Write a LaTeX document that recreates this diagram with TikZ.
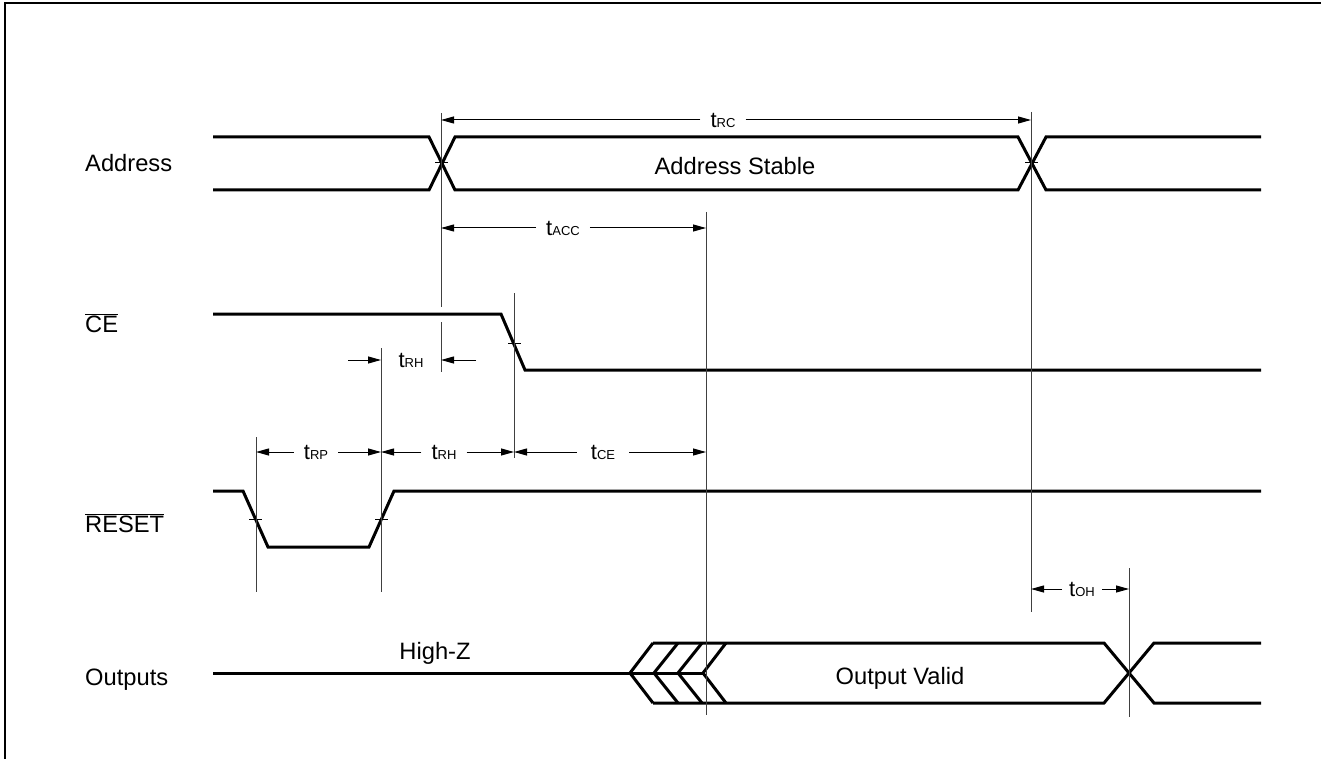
\documentclass[tikz,border=0pt]{standalone}
\usepackage{fontspec}
\setmainfont{Liberation Sans}
\usetikzlibrary{arrows.meta}
\newcommand{\tlab}[1]{{\fontsize{22}{24}\selectfont t}{\fontsize{13}{15}\selectfont #1}}
\begin{document}
\begin{tikzpicture}[x=1pt,y=-1pt,
  sig/.style={line width=3pt, line join=miter},
  ext/.style={line width=1pt, black!75},
  dim/.style={line width=1pt, -{Triangle[length=13pt,width=7pt]}},
  tlabel/.style={inner xsep=10pt, inner ysep=0pt},
  signame/.style={anchor=base west, font=\fontsize{23.7}{26}\selectfont, inner sep=0pt},
  txt/.style={anchor=base, font=\fontsize{23.7}{26}\selectfont, inner sep=0pt},
  tick/.style={line width=1pt}]
\useasboundingbox (0,0) rectangle (1321,759);
\draw[line width=2pt] (5,759) -- (5,3) -- (1321,3);

% signal names
\node[signame] (lAddr) at (85,172) {Address};
\node[signame] (lCE) at (85,332) {$\overline{\mbox{CE}}$};
\node[signame] (lRST) at (85,532) {$\overline{\mbox{RESET}}$};
\node[signame] (lOut) at (85,685) {Outputs};

% Address
\draw[sig] (213,137) -- (429,137) -- (455,190) -- (1018,190) -- (1046,137) -- (1261,137);
\draw[sig] (213,190) -- (429,190) -- (455,137) -- (1018,137) -- (1046,190) -- (1261,190);
\node[txt] (stable) at (735,175) {Address Stable};

% CE
\draw[sig] (213,314) -- (501,314) -- (525,370) -- (1261,370);

% RESET
\draw[sig] (213,491) -- (243,491) -- (268,547) -- (369,547) -- (394,491) -- (1261,491);

% Outputs
\draw[sig] (213,673) -- (703,673);
\draw[sig] (653,643) -- (630,673) -- (653,703);
\draw[sig] (678,643) -- (654,673) -- (678,703);
\draw[sig] (702,643) -- (678,673) -- (702,703);
\draw[sig] (726,643) -- (703,673) -- (726,703);
\draw[sig] (653,643) -- (1104,643) -- (1154,703) -- (1261,703);
\draw[sig] (653,703) -- (1104,703) -- (1154,643) -- (1261,643);
\node[txt] (hz) at (435,659) {High-Z};
\node[txt] (ov) at (900,684) {Output Valid};

% ticks
\draw[tick] (435,163) -- (448,163);
\draw[tick] (1025,163) -- (1038,163);
\draw[tick] (508,343) -- (521,343);
\draw[tick] (249,519) -- (262,519);
\draw[tick] (375,519) -- (388,519);

% extension lines
\draw[ext] (441,113) -- (441,307);
\draw[ext] (441,322) -- (441,372);
\draw[ext] (1031,112) -- (1031,612);
\draw[ext] (706,212) -- (706,715);
\draw[ext] (514,293) -- (514,458);
\draw[ext] (381,348) -- (381,592);
\draw[ext] (256,437) -- (256,592);
\draw[ext] (1129,568) -- (1129,717);

% dimension coordinates
\coordinate (rcL) at (441,120);
\coordinate (rcR) at (1031,120);
\coordinate (accL) at (441,228);
\coordinate (accR) at (706,228);
\coordinate (rhaS1) at (348,360);
\coordinate (rhaE1) at (381,360);
\coordinate (rhaS2) at (476,360);
\coordinate (rhaE2) at (441,360);
\coordinate (rpL) at (256,452);
\coordinate (rpR) at (381,452);
\coordinate (rhL) at (381,452);
\coordinate (rhR) at (514,452);
\coordinate (ceL) at (514,452);
\coordinate (ceR) at (706,452);
\coordinate (ohL) at (1031,589);
\coordinate (ohR) at (1129,589);

% dimension labels and arrows
\node[tlabel] (trc) at (723,120) {\tlab{RC}};
\draw[dim] (trc.west) -- (rcL);
\draw[dim] (trc.east) -- (rcR);

\node[tlabel] (tacc) at (563,228) {\tlab{ACC}};
\draw[dim] (tacc.west) -- (accL);
\draw[dim] (tacc.east) -- (accR);

\node[tlabel] (trh1) at (411,360) {\tlab{RH}};
\draw[dim] (rhaS1) -- (rhaE1);
\draw[dim] (rhaS2) -- (rhaE2);

\node[tlabel] (trp) at (316,452) {\tlab{RP}};
\draw[dim] (trp.west) -- (rpL);
\draw[dim] (trp.east) -- (rpR);

\node[tlabel] (trh2) at (444,452) {\tlab{RH}};
\draw[dim] (trh2.west) -- (rhL);
\draw[dim] (trh2.east) -- (rhR);

\node[tlabel, inner xsep=14pt] (tce) at (603,452) {\tlab{CE}};
\draw[dim] (tce.west) -- (ceL);
\draw[dim] (tce.east) -- (ceR);

\node[tlabel, inner xsep=7pt] (toh) at (1082,589) {\tlab{OH}};
\draw[dim] (toh.west) -- (ohL);
\draw[dim] (toh.east) -- (ohR);
\end{tikzpicture}
\end{document}
